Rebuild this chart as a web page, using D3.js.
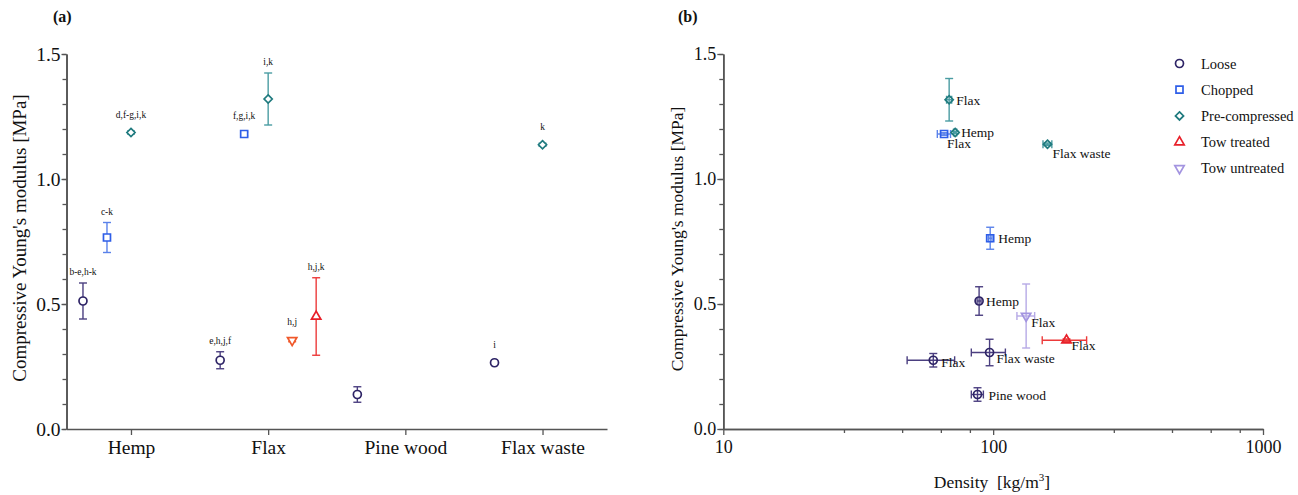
<!DOCTYPE html>
<html lang="en">
<head>
  <meta charset="utf-8">
  <title>Compressive modulus vs fibre type and density</title>
  <style>
  html, body {padding: 0; margin: 0; overflow: hidden; background: #fff}
  svg text {font-family: "Liberation Serif", "Times New Roman", Times, serif !important; fill: #111}
</style>
</head>
<body>
  <svg id="chart" width="1298" height="495"></svg>
  <script src="https://cdn.jsdelivr.net/npm/d3@7"></script>
  <script>

  // ---- data, panel (a) ----
  var categories = ["Hemp", "Flax", "Pine wood", "Flax waste"];
  var groupsA = ["Loose", "Chopped", "Pre-compressed", "Tow untreated", "Tow treated"];

  var aCategory = ["Hemp", "Hemp", "Hemp", "Flax", "Flax", "Flax", "Flax", "Flax", "Pine wood", "Flax waste", "Flax waste"];
  var aGroup    = ["Loose", "Chopped", "Pre-compressed", "Loose", "Chopped", "Pre-compressed", "Tow untreated", "Tow treated", "Loose", "Loose", "Pre-compressed"];
  var aMean     = [0.512, 0.766, 1.186, 0.275, 1.180, 1.320, 0.355, 0.450, 0.138, 0.265, 1.137];
  var aSd       = [0.072, 0.060, 0.006, 0.034, 0.008, 0.104, 0.006, 0.155, 0.031, 0.004, 0.006];
  var aLetters  = ["b-e,h-k", "c-k", "d,f-g,i,k", "e,h,j,f", "f,g,i,k", "i,k", "h,j", "h,j,k", "", "i", "k"];

  // ---- data, panel (b) ----
  var legendGroups = ["Loose", "Chopped", "Pre-compressed", "Tow treated", "Tow untreated"];
  var bGroup    = ["Loose", "Loose", "Loose", "Loose", "Chopped", "Chopped", "Pre-compressed", "Pre-compressed", "Pre-compressed", "Tow treated", "Tow untreated"];
  var bName     = ["Hemp", "Flax", "Pine wood", "Flax waste", "Hemp", "Flax", "Hemp", "Flax", "Flax waste", "Flax", "Flax"];
  var bDensity  = [88.7, 60.0, 87.5, 97.0, 97.5, 65.8, 72.3, 68.7, 159, 187, 132.5];
  var bDensSd   = [1.5, 12.0, 4.5, 14.0, 1.5, 3.7, 1.0, 1.5, 6.0, 35.0, 10.0];
  var bMean     = [0.512, 0.275, 0.138, 0.306, 0.763, 1.180, 1.186, 1.317, 1.139, 0.355, 0.452];
  var bSd       = [0.057, 0.027, 0.027, 0.053, 0.044, 0.005, 0.005, 0.085, 0.005, 0.005, 0.128];

  var yTicks = [0, 0.5, 1.0, 1.5];
  var xTicksB = [10, 100, 1000];
  var minorMult = [2.8, 4.6, 6.4, 8.2];

  // ---- styles ----
  var color = {
    "Loose": "#2e2466", "Chopped": "#2e5ee8", "Pre-compressed": "#1f7a7e",
    "Tow treated": "#e8202a", "Tow untreated": "#a394e0"
  };
  var barColor = {
    "Loose": "#4b3f80", "Chopped": "#5a82ea", "Pre-compressed": "#4a9ca2",
    "Tow treated": "#ec3a3a", "Tow untreated": "#b6aae6"
  };
  var colorA = Object.assign({}, color, {"Tow untreated": "#f0582a"});
  var barColorA = Object.assign({}, barColor, {"Tow untreated": "#f0582a"});

  var symbolOf = {
    "Loose": d3.symbol(d3.symbolCircle, 50),
    "Chopped": d3.symbol(d3.symbolSquare, 49),
    "Pre-compressed": d3.symbol(d3.symbolDiamond2 || d3.symbolDiamond, 42),
    "Tow treated": d3.symbol(d3.symbolTriangle, 38),
    "Tow untreated": d3.symbol(d3.symbolTriangle, 38)
  };
  function markerTransform(g, x, y) {
    return "translate(" + x + "," + y + ")" + (g == "Tow untreated" ? " rotate(180)" : "");
  }

  var svg = d3.select("#chart");
  svg.append("rect").attr("width", 1298).attr("height", 495).attr("fill", "#fff");

  function styleAxis(g, size) {
    g.attr("font-family", null);
    g.select(".domain").attr("stroke", "#555").attr("stroke-width", 1.6);
    g.selectAll(".tick line").attr("stroke", "#555").attr("stroke-width", 1.3);
    g.selectAll("text").attr("font-size", size).attr("fill", "#111");
  }

  // ================= panel (a) =================
  var ya = d3.scaleLinear().domain([0, 1.5]).range([429, 54]);
  var xa = d3.scalePoint().domain(categories).range([66.5, 607]).padding(0.47);
  var off = d3.scalePoint().domain(groupsA).range([-48, 48]);

  var pa = svg.append("g");

  pa.append("g").attr("transform", "translate(66.5,0)")
    .call(d3.axisLeft(ya).tickValues(d3.range(0, 1.55, 0.1)).tickSize(4).tickSizeOuter(0).tickFormat(""))
    .call(styleAxis, 19);
  pa.append("g").attr("transform", "translate(66.5,0)")
    .call(d3.axisLeft(ya).tickValues(yTicks).tickSize(5).tickSizeOuter(0).tickPadding(1).tickFormat(d3.format(".1f")))
    .call(styleAxis, 19.5);
  pa.append("g").attr("transform", "translate(0,429)")
    .call(d3.axisBottom(xa).tickSize(6).tickSizeOuter(0).tickPadding(5))
    .call(styleAxis, 19.5);

  pa.append("text").attr("transform", "translate(26,238) rotate(-90)")
    .attr("text-anchor", "middle").attr("font-size", 19)
    .text("Compressive Young's modulus [MPa]");
  pa.append("text").attr("x", 53).attr("y", 22).attr("font-size", 16).attr("font-weight", "bold").text("(a)");

  var dataA = aMean.map(function(m, i) {
    return {cat: aCategory[i], g: aGroup[i], m: m, sd: aSd[i], lab: aLetters[i]};
  });

  dataA.forEach(function(d) {
    var x = xa(d.cat) + off(d.g);
    var eb = pa.append("g").attr("stroke", barColorA[d.g]).attr("stroke-width", 1.4);
    eb.append("line").attr("x1", x).attr("x2", x).attr("y1", ya(d.m - d.sd)).attr("y2", ya(d.m + d.sd));
    [d.m - d.sd, d.m + d.sd].forEach(function(v) {
      eb.append("line").attr("x1", x - 4).attr("x2", x + 4).attr("y1", ya(v)).attr("y2", ya(v));
    });
    pa.append("path").attr("d", symbolOf[d.g]()).attr("transform", markerTransform(d.g, x, ya(d.m)))
      .attr("fill", "#fff").attr("stroke", colorA[d.g]).attr("stroke-width", 1.7);
    if (d.lab) {
      pa.append("text").attr("x", x).attr("y", Math.min(ya(d.m + d.sd) - 11, ya(d.m) - 18) + 3)
        .attr("text-anchor", "middle").attr("font-size", 9.5).text(d.lab);
    }
  });

  // ================= panel (b) =================
  var yb = d3.scaleLinear().domain([0, 1.5]).range([429, 54]);
  var xb = d3.scaleLog().domain([10, 1000]).range([723.3, 1263]);

  var pb = svg.append("g");

  pb.append("g").attr("transform", "translate(723.3,0)")
    .call(d3.axisLeft(yb).tickValues(d3.range(0, 1.55, 0.1)).tickSize(4).tickSizeOuter(0).tickFormat(""))
    .call(styleAxis, 17.5);
  pb.append("g").attr("transform", "translate(723.3,0)")
    .call(d3.axisLeft(yb).tickValues(yTicks).tickSize(6).tickSizeOuter(0).tickPadding(1).tickFormat(d3.format(".1f")))
    .call(styleAxis, 18);

  var minorB = [];
  [10, 100].forEach(function(dec) { minorMult.forEach(function(m) { minorB.push(dec * m); }); });
  pb.append("g").attr("transform", "translate(0,429)")
    .call(d3.axisBottom(xb).tickValues(minorB).tickSize(4).tickSizeOuter(0).tickFormat(""))
    .call(styleAxis, 17.5);
  pb.append("g").attr("transform", "translate(0,429)")
    .call(d3.axisBottom(xb).tickValues(xTicksB).tickSize(6).tickSizeOuter(0).tickPadding(5).tickFormat(d3.format("d")))
    .call(styleAxis, 18);

  pb.append("text").attr("transform", "translate(683,239) rotate(-90)")
    .attr("text-anchor", "middle").attr("font-size", 17.5)
    .text("Compressive Young's modulus [MPa]");
  var xt = pb.append("text").attr("x", 992).attr("y", 488).attr("text-anchor", "middle").attr("font-size", 17.5);
  xt.append("tspan").text("Density\u00a0\u00a0[kg/m");
  xt.append("tspan").attr("font-size", 11).attr("dy", -7).text("3");
  xt.append("tspan").attr("dy", 7).text("]");
  pb.append("text").attr("x", 678).attr("y", 22).attr("font-size", 16).attr("font-weight", "bold").text("(b)");

  // label placement: [dx, dy] from the marker centre
  var labelNudge = [[7, 5], [8, 7], [11, 5], [7, 10], [8, 5], [3, 14], [6, 4], [7, 5], [5, 14], [5, 10], [5, 11]];

  var dataB = bMean.map(function(m, i) {
    return {g: bGroup[i], name: bName[i], x: bDensity[i], xsd: bDensSd[i], m: m, sd: bSd[i], nudge: labelNudge[i]};
  });

  dataB.forEach(function(d) {
    var x = xb(d.x), y = yb(d.m);
    var eb = pb.append("g").attr("stroke", barColor[d.g]).attr("stroke-width", 1.4);
    eb.append("line").attr("x1", x).attr("x2", x).attr("y1", yb(d.m - d.sd)).attr("y2", yb(d.m + d.sd));
    [d.m - d.sd, d.m + d.sd].forEach(function(v) {
      eb.append("line").attr("x1", x - 4).attr("x2", x + 4).attr("y1", yb(v)).attr("y2", yb(v));
    });
    var x0 = xb(d.x - d.xsd), x1 = xb(d.x + d.xsd);
    eb.append("line").attr("x1", x0).attr("x2", x1).attr("y1", y).attr("y2", y);
    [x0, x1].forEach(function(v) {
      eb.append("line").attr("x1", v).attr("x2", v).attr("y1", y - 4).attr("y2", y + 4);
    });
    pb.append("path").attr("d", symbolOf[d.g]()).attr("transform", markerTransform(d.g, x, y))
      .attr("fill", "none").attr("stroke", color[d.g]).attr("stroke-width", 1.7);
    pb.append("text").attr("x", x + d.nudge[0]).attr("y", y + d.nudge[1])
      .attr("font-size", 13.5).text(d.name);
  });

  // legend
  var legend = pb.append("g");
  legendGroups.forEach(function(g, i) {
    var y = 63.5 + i * 26.2;
    legend.append("path").attr("d", symbolOf[g]()).attr("transform", markerTransform(g, 1179.5, y))
      .attr("fill", "none").attr("stroke", color[g]).attr("stroke-width", 1.7);
    legend.append("text").attr("x", 1201).attr("y", y + 5).attr("font-size", 14.5).text(g);
  });

  </script>
</body>
</html>
